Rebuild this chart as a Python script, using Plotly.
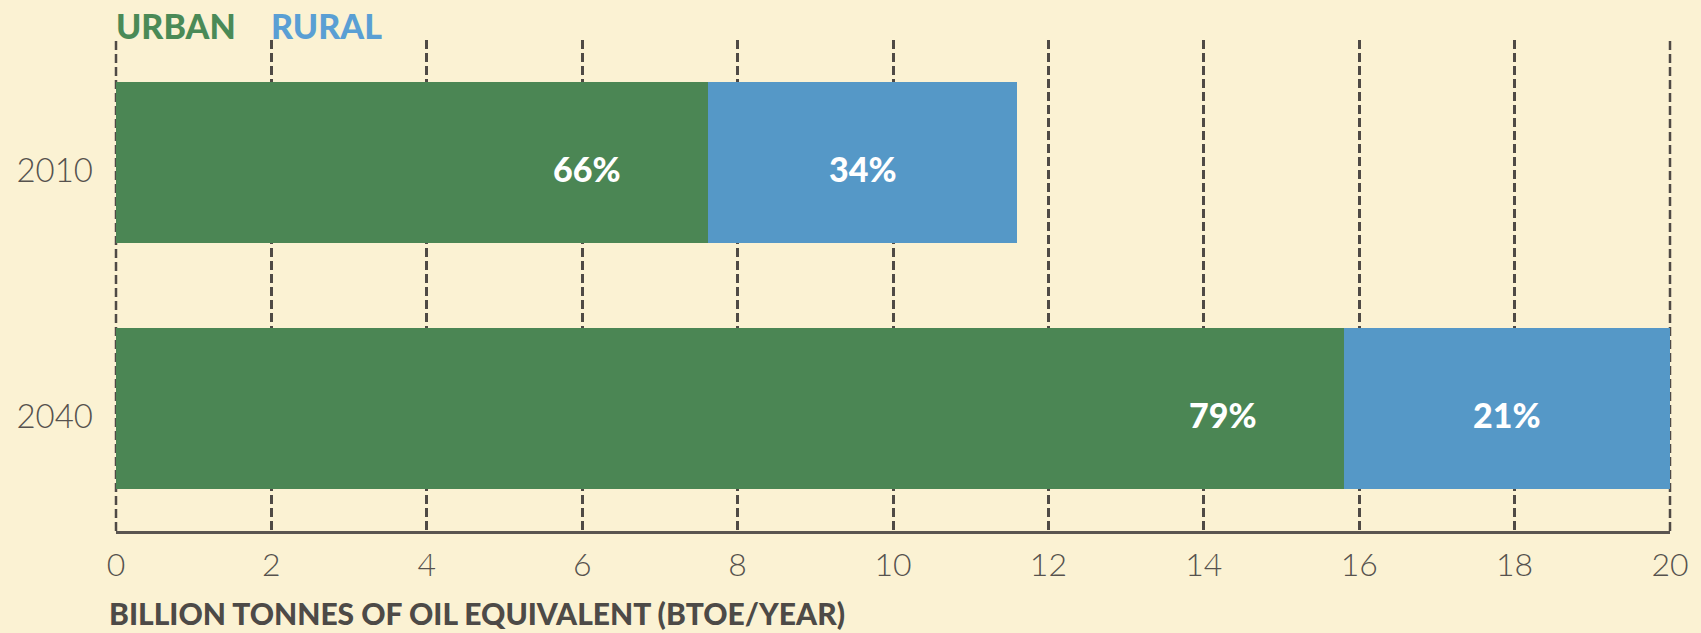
import plotly.graph_objects as go

# ---- data ----
years = ["2040", "2010"]            # bottom to top
urban = [15.8, 7.62]                # BTOE/year
rural = [4.2, 3.98]
urban_pct = ["79%", "66%"]
rural_pct = ["21%", "34%"]
series_names = ["URBAN", "RURAL"]
x_ticks = [0, 2, 4, 6, 8, 10, 12, 14, 16, 18, 20]
x_title = "BILLION TONNES OF OIL EQUIVALENT (BTOE/YEAR)"

BG = "#FBF2D3"
GREEN = "#4B8654"
BLUE = "#5598C7"
GREEN_TXT = "#4A8A57"
BLUE_TXT = "#5A9FD4"
GRID = "#4F4A45"
TXT = "#56524E"
FONT = "Lato"
DASH = "9px,4px"
XR = [x_ticks[0], x_ticks[-1]]

fig = go.Figure()
fig.add_trace(go.Bar(y=years, x=urban, orientation="h", name=series_names[0],
                     marker=dict(color=GREEN, line=dict(width=0)), hoverinfo="skip"))
fig.add_trace(go.Bar(y=years, x=rural, orientation="h", name=series_names[1],
                     marker=dict(color=BLUE, line=dict(width=0)), hoverinfo="skip"))

ann = []
for i, (u, r, up, rp) in enumerate(zip(urban, rural, urban_pct, rural_pct)):
    ann.append(dict(x=u, y=i, xref="x", yref="y", text=up, showarrow=False,
                    xanchor="center", yanchor="middle", xshift=-121, yshift=-6,
                    font=dict(family=FONT, size=34, color="white", weight=900)))
    ann.append(dict(x=u + r / 2, y=i, xref="x", yref="y", text=rp, showarrow=False,
                    xanchor="center", yanchor="middle", yshift=-6,
                    font=dict(family=FONT, size=34, color="white", weight=900)))

# legend words
ann.append(dict(x=0, y=1.0305, xref="paper", yref="paper", text=series_names[0],
                showarrow=False, xanchor="left", yanchor="middle", xshift=-2,
                font=dict(family=FONT, size=34, color=GREEN_TXT, weight=900)))
ann.append(dict(x=0.0999, y=1.0305, xref="paper", yref="paper", text=series_names[1],
                showarrow=False, xanchor="left", yanchor="middle", xshift=-2,
                font=dict(family=FONT, size=34, color=BLUE_TXT, weight=900)))
# axis title
ann.append(dict(x=-0.006, y=-0.166, xref="paper", yref="paper", text=x_title,
                showarrow=False, xanchor="left", yanchor="middle",
                font=dict(family=FONT, size=30, color="#4D4A47", weight=900)))

# dashed gridlines at the two range edges (plotly omits grid at the edges)
shapes = [dict(type="line", xref="paper", yref="paper",
               x0=(v - XR[0]) / (XR[1] - XR[0]), x1=(v - XR[0]) / (XR[1] - XR[0]),
               y0=0, y1=1, layer="below", line=dict(color=GRID, width=2.5, dash=DASH))
          for v in XR]

fig.update_layout(
    barmode="stack",
    bargap=0.345,
    width=1701, height=633,
    margin=dict(l=116, r=24, t=40, b=102),
    paper_bgcolor=BG, plot_bgcolor=BG,
    showlegend=False,
    annotations=ann,
    shapes=shapes,
    xaxis=dict(range=XR, tickvals=x_ticks, ticktext=[str(v) for v in x_ticks],
               showgrid=True, gridcolor=GRID, gridwidth=2.5, griddash=DASH,
               zeroline=False, showline=True, linecolor="#5A5550", linewidth=3,
               ticks="", ticklabelstandoff=4,
               tickfont=dict(family=FONT, size=32, color=TXT, weight=300)),
    yaxis=dict(type="category", categoryorder="array", categoryarray=years,
               range=[-0.5, 1.5], autorange=False,
               showgrid=False, zeroline=False, showline=False, ticks="",
               ticklabelstandoff=22, ticklabelshift=8,
               tickfont=dict(family=FONT, size=33, color=TXT, weight=300)),
)

fig.write_html("out.html", config={"displayModeBar": False},
               post_script="document.body.style.margin='0';document.body.style.overflow='hidden';")
